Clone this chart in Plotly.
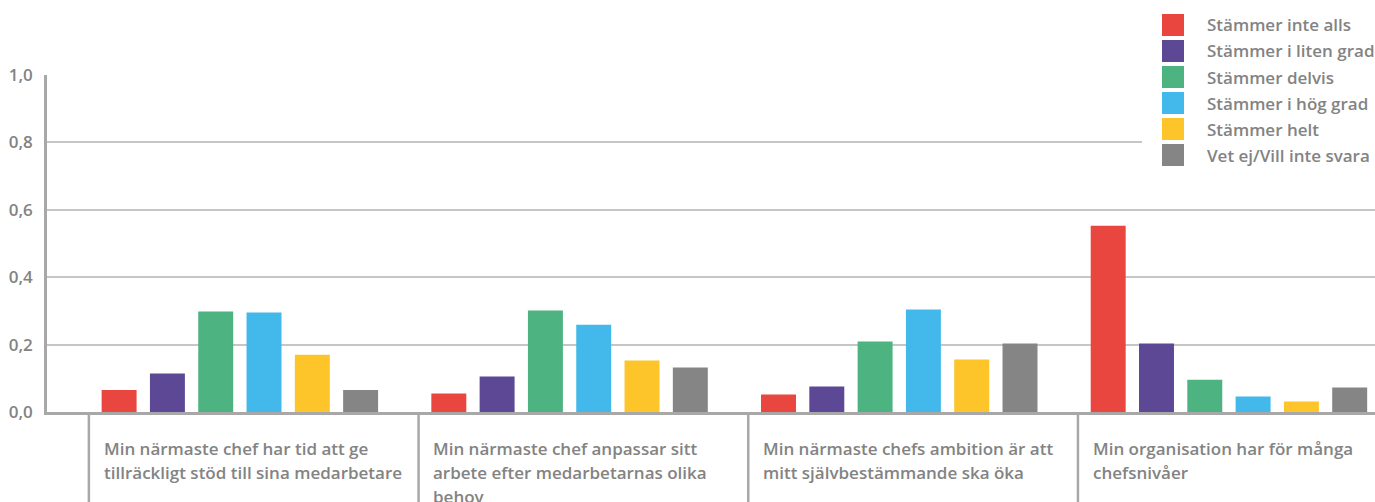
import plotly.graph_objects as go

# ---- data -----------------------------------------------------------------
categories = [
    "Min närmaste chef har tid att ge\ntillräckligt stöd till sina medarbetare",
    "Min närmaste chef anpassar sitt\narbete efter medarbetarnas olika\nbehov",
    "Min närmaste chefs ambition är att\nmitt självbestämmande ska öka",
    "Min organisation har för många\nchefsnivåer",
]

series_names = [
    "Stämmer inte alls",
    "Stämmer i liten grad",
    "Stämmer delvis",
    "Stämmer i hög grad",
    "Stämmer helt",
    "Vet ej/Vill inte svara",
]
series_colors = ["#E9463F", "#5D4896", "#4DB380", "#42B9EA", "#FDC52A", "#858585"]

stammer_inte_alls = [0.065, 0.055, 0.052, 0.553]
stammer_i_liten_grad = [0.114, 0.105, 0.076, 0.203]
stammer_delvis = [0.298, 0.301, 0.209, 0.096]
stammer_i_hog_grad = [0.295, 0.259, 0.304, 0.046]
stammer_helt = [0.170, 0.153, 0.156, 0.031]
vet_ej = [0.065, 0.132, 0.203, 0.073]

series_values = [stammer_inte_alls, stammer_i_liten_grad, stammer_delvis,
                 stammer_i_hog_grad, stammer_helt, vet_ej]

y_ticks = [0.0, 0.2, 0.4, 0.6, 0.8, 1.0]
y_tick_labels = ["0,0", "0,2", "0,4", "0,6", "0,8", "1,0"]

# ---- layout constants -------------------------------------------------------
W, H = 1375, 502
ML, MR, MT, MB = 47, 0, 75, 90
FONT = "Open Sans"
FONT_SIZE = 17
FONT_WEIGHT = 600
TEXT_GREY = "#838383"
AXIS_GREY = "#a8a8a8"
GRID_GREY = "#c6c6c6"


def px_to_paper_y(py):
    return (H - MB - py) / (H - MT - MB)


def px_to_paper_x(px):
    return (px - ML) / (W - ML - MR)


def text_font():
    return dict(family=FONT, size=FONT_SIZE, color=TEXT_GREY, weight=FONT_WEIGHT)


x_pos = list(range(len(categories)))

fig = go.Figure()
for name, color, vals in zip(series_names, series_colors, series_values):
    fig.add_trace(go.Bar(
        x=x_pos, y=vals, name=name,
        marker=dict(color=color, line=dict(width=0)),
        showlegend=False,
    ))

shapes = []
annotations = []

# separators and wrapped category labels below the axis
sep_offset = -0.458
label_offset = -0.419
line_step = 23.5
first_line_px = 449
for i, cat in enumerate(categories):
    shapes.append(dict(
        type="line", xref="x", yref="paper",
        x0=i + sep_offset, x1=i + sep_offset,
        y0=0, y1=px_to_paper_y(H + 5),
        line=dict(color=AXIS_GREY, width=2.5), layer="above",
    ))
    for j, line in enumerate(cat.split("\n")):
        annotations.append(dict(
            xref="x", yref="paper",
            x=i + label_offset, y=px_to_paper_y(first_line_px + j * line_step),
            xanchor="left", yanchor="middle", showarrow=False,
            text=line, font=text_font(),
        ))

# legend box (top right)
shapes.append(dict(
    type="rect", xref="paper", yref="paper",
    x0=px_to_paper_x(1142), x1=1.0,
    y0=px_to_paper_y(172), y1=px_to_paper_y(6),
    fillcolor="white", line=dict(width=0), layer="above",
))
row0, row_step = 25, 26
for k, (name, color) in enumerate(zip(series_names, series_colors)):
    cy = row0 + k * row_step
    shapes.append(dict(
        type="rect", xref="paper", yref="paper",
        x0=px_to_paper_x(1162), x1=px_to_paper_x(1184),
        y0=px_to_paper_y(cy + 11), y1=px_to_paper_y(cy - 11),
        fillcolor=color, line=dict(width=0), layer="above",
    ))
    annotations.append(dict(
        xref="paper", yref="paper",
        x=px_to_paper_x(1205), y=px_to_paper_y(cy),
        xanchor="left", yanchor="middle", showarrow=False,
        text=name, font=text_font(),
    ))

fig.update_layout(
    width=W, height=H,
    margin=dict(l=ML, r=MR, t=MT, b=MB, pad=0),
    paper_bgcolor="white", plot_bgcolor="white",
    barmode="group", bargap=0.121, bargroupgap=0.276,
    font=text_font(),
    showlegend=False,
    shapes=shapes, annotations=annotations,
    xaxis=dict(
        range=[-0.585, 3.443], showticklabels=False, ticks="",
        showgrid=False, zeroline=False,
        showline=True, linecolor=AXIS_GREY, linewidth=2.5,
    ),
    yaxis=dict(
        range=[0, 1], tickvals=y_ticks, ticktext=y_tick_labels,
        showgrid=True, gridcolor=GRID_GREY, gridwidth=1.5,
        zeroline=False, showline=True, linecolor=AXIS_GREY, linewidth=2.5,
        ticks="", ticklabelstandoff=8,
        tickfont=text_font(),
    ),
)

fig.write_html("out.html")
